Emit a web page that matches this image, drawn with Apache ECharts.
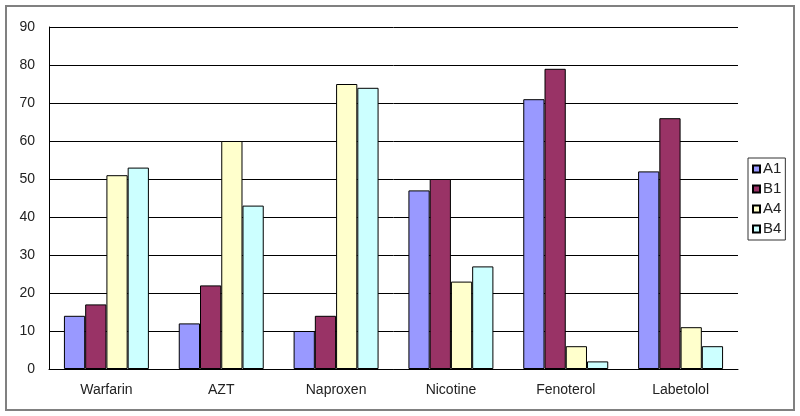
<!DOCTYPE html>
<html>
<head>
<meta charset="utf-8">
<script src="https://cdn.jsdelivr.net/npm/echarts@6/dist/echarts.min.js"></script>
<style>
  html, body { margin: 0; padding: 0; background: #fff; }
  #chart { width: 800px; height: 416px; }
</style>
</head>
<body>
<div id="chart"></div>
<script>
const categories = ["Warfarin", "AZT", "Naproxen", "Nicotine", "Fenoterol", "Labetolol"];
const a1 = [14, 12, 10, 47, 71, 52];
const b1 = [17, 22, 14, 50, 79, 66];
const a4 = [51, 60, 75, 23, 6, 11];
const b4 = [53, 43, 74, 27, 2, 6];
const yTicks = [0, 10, 20, 30, 40, 50, 60, 70, 80, 90];

const font = "'Liberation Sans', Arial, sans-serif";

function bar(name, data, color) {
  return {
    name: name,
    type: "bar",
    data: data,
    barGap: 0,
    barCategoryGap: "26%",
    itemStyle: { color: color, borderColor: "#000", borderWidth: 1 }
  };
}

const chart = echarts.init(document.getElementById("chart"));
chart.setOption({
  animation: false,
  textStyle: { fontFamily: font },
  graphic: [{
    type: "rect",
    shape: { x: 6, y: 6, width: 788, height: 404 },
    style: { fill: "none", stroke: "#808080", lineWidth: 2 }
  }],
  grid: { left: 49, right: 62, top: 27, bottom: 47 },
  legend: {
    orient: "vertical",
    left: 748,
    top: 158,
    icon: "rect",
    itemWidth: 7,
    itemHeight: 7,
    itemGap: 4,
    padding: [3, 4, 3, 4],
    borderColor: "#333",
    borderWidth: 1,
    textStyle: { fontSize: 15, color: "#222", padding: [0, 0, 0, -2], lineHeight: 16 },
    data: ["A1", "B1", "A4", "B4"]
  },
  xAxis: {
    type: "category",
    data: categories,
    axisLine: { lineStyle: { color: "#000" } },
    axisTick: { inside: true, length: 4, lineStyle: { color: "#000" } },
    axisLabel: { fontSize: 14, color: "#222", margin: 14 }
  },
  yAxis: {
    type: "value",
    min: 0,
    max: 90,
    interval: 10,
    axisLine: { show: true, lineStyle: { color: "#000" } },
    axisTick: { show: false },
    axisLabel: {
      fontSize: 14,
      color: "#222",
      margin: 14,
      formatter: v => yTicks.includes(v) ? String(v) : ""
    },
    splitLine: { lineStyle: { color: "#000", width: 1 } }
  },
  series: [
    bar("A1", a1, "#9999FF"),
    bar("B1", b1, "#993366"),
    bar("A4", a4, "#FFFFCC"),
    bar("B4", b4, "#CCFFFF")
  ]
});
</script>
</body>
</html>
